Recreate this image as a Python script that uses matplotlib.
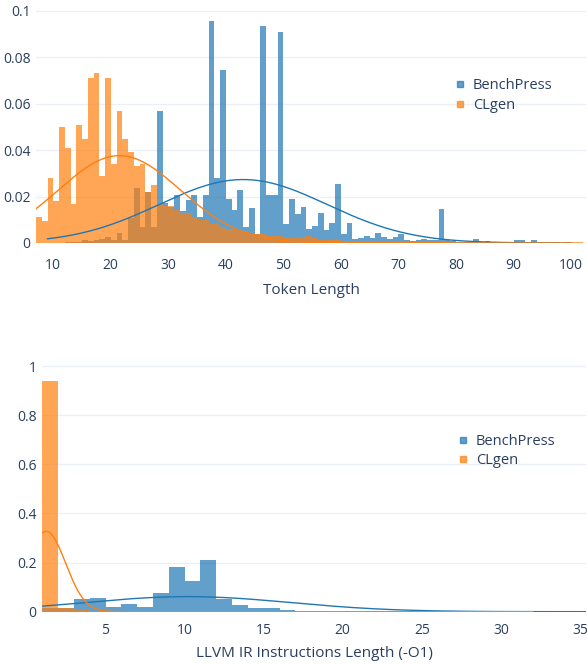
import numpy as np
import matplotlib
matplotlib.use("Agg")
import matplotlib.pyplot as plt
from matplotlib.lines import Line2D

plt.rcParams['font.family'] = ['Open Sans', 'DejaVu Sans']

BLUE = '#1f77b4'
ORANGE = '#ff7f0e'
TEXT = '#2a3f5f'
GRID = '#ebf0f8'

series_names = ['BenchPress', 'CLgen']

# --- token length histogram (bin width 1) ---
tok_bench_start = 9
tok_bench = [
    0.0, 0.0, 0.0, 0.0006, 0.0003, 0.0003, 0.0014, 0.0008, 0.0014, 0.0018,   # 9-18
    0.0026, 0.0012, 0.0042, 0.0013, 0.0106, 0.0236, 0.007, 0.022, 0.007, 0.057,  # 19-28
    0.0172, 0.0155, 0.0208, 0.0138, 0.0184, 0.0208, 0.0112, 0.0208, 0.0957, 0.028,  # 29-38
    0.0747, 0.019, 0.0144, 0.0227, 0.0069, 0.0152, 0.004, 0.0934, 0.0205, 0.0205,  # 39-48
    0.0908, 0.0083, 0.019, 0.0127, 0.0153, 0.006, 0.0074, 0.0129, 0.0058, 0.0084,  # 49-58
    0.0256, 0.004, 0.0086, 0.0019, 0.0023, 0.0032, 0.0023, 0.0045, 0.0026, 0.0017,  # 59-68
    0.0026, 0.004, 0.0014, 0.0009, 0.0011, 0.0019, 0.0011, 0.0011, 0.0145, 0.0014,  # 69-78
    0.0009, 0.0004, 0.0004, 0.0004, 0.0016, 0.0004, 0.0008, 0.0003, 0.0003, 0.0003,  # 79-88
    0.0003, 0.0011, 0.0011, 0.0003, 0.0011, 0.0003, 0.0003, 0.0, 0.0006, 0.0,  # 89-98
    0.0003,  # 99
]
tok_clgen_start = 7
tok_clgen = [
    0.011, 0.0095, 0.028, 0.018, 0.050, 0.041, 0.017, 0.051, 0.045, 0.071,  # 7-16
    0.073, 0.029, 0.071, 0.034, 0.057, 0.045, 0.039, 0.033, 0.034, 0.022,  # 17-26
    0.025, 0.017, 0.016, 0.016, 0.014, 0.013, 0.013, 0.011, 0.010, 0.010,  # 27-36
    0.008, 0.008, 0.007, 0.006, 0.006, 0.005, 0.005, 0.004, 0.004, 0.004,  # 37-46
    0.003, 0.003, 0.003, 0.0025, 0.002, 0.002, 0.0025, 0.003, 0.002, 0.0015,  # 47-56
    0.0015, 0.0012, 0.0012, 0.001, 0.001, 0.0009, 0.0008, 0.0008, 0.0007, 0.0007,  # 57-66
    0.0006, 0.0006, 0.0005, 0.0008, 0.0005, 0.0004, 0.0004, 0.0004, 0.0003, 0.0003,  # 67-76
    0.0003, 0.0003, 0.0002, 0.0002, 0.0002, 0.0002, 0.0002, 0.0002, 0.0002, 0.0002,  # 77-86
    0.0002, 0.0001, 0.0001, 0.0001, 0.0001, 0.0001, 0.0001, 0.0001, 0.0001, 0.0001,  # 87-96
    0.0001, 0.0001, 0.0001, 0.0001, 0.0001,  # 97-101
]
# normal fits (mean, std, x-extent)
tok_bench_fit = (43.0, 14.6, 9, 100)
tok_clgen_fit = (21.5, 10.6, 7, 102)
tok_xticks = [10, 20, 30, 40, 50, 60, 70, 80, 90, 100]
tok_yticks = [0, 0.02, 0.04, 0.06, 0.08, 0.1]
tok_ylabels = ['0', '0.02', '0.04', '0.06', '0.08', '0.1']

# --- LLVM IR instruction length histogram (bin width 1) ---
ir_bench_start = 1
ir_bench = [
    0.016, 0.016, 0.052, 0.056, 0.02, 0.03, 0.02, 0.075, 0.18, 0.126,  # 1-10
    0.21, 0.05, 0.026, 0.016, 0.016, 0.007, 0.004, 0.003, 0.003, 0.002,  # 11-20
    0.001, 0.001, 0.001, 0.001, 0.001, 0.001, 0.001, 0.001, 0.001, 0.001,  # 21-30
    0.001, 0.002, 0.002, 0.002, 0.002,  # 31-35
]
ir_clgen_start = 1
ir_clgen = [
    0.94, 0.016, 0.005, 0.004, 0.003, 0.003, 0.002, 0.002, 0.002, 0.002,  # 1-10
    0.002, 0.002, 0.002, 0.002, 0.002, 0.002, 0.002, 0.002, 0.002, 0.002,  # 11-20
    0.002, 0.002, 0.002, 0.002, 0.002, 0.002, 0.002, 0.002, 0.002, 0.002,  # 21-30
    0.002,  # 31
]
ir_bench_fit = (10.2, 6.5, 1, 35.5)
ir_clgen_fit = (1.25, 1.22, 1, 32)
ir_xticks = [5, 10, 15, 20, 25, 30, 35]
ir_yticks = [0, 0.2, 0.4, 0.6, 0.8, 1]
ir_ylabels = ['0', '0.2', '0.4', '0.6', '0.8', '1']


def normal_curve(fit):
    mu, sd, lo, hi = fit
    x = np.linspace(lo, hi, 400)
    y = np.exp(-0.5 * ((x - mu) / sd) ** 2) / (sd * np.sqrt(2 * np.pi))
    return x, y


def draw_panel(ax, hists, fits, xlim, ylim, xticks, yticks, ylabels, xlabel,
               leg_anchor, xpad, lpad):
    for (start, vals), color in zip(hists, [BLUE, ORANGE]):
        edges = start + np.arange(len(vals))
        ax.bar(edges, vals, width=1.0, align='edge', color=color, alpha=0.7,
               linewidth=0, zorder=2)
    for fit, color in zip(fits, [BLUE, ORANGE]):
        x, y = normal_curve(fit)
        ax.plot(x, y, color=color, lw=1.0, zorder=3)
    ax.set_xlim(*xlim)
    ax.set_ylim(*ylim)
    ax.set_xticks(xticks)
    ax.set_yticks(yticks)
    ax.set_yticklabels(ylabels)
    ax.grid(axis='y', color=GRID, lw=1.0, zorder=0)
    ax.set_axisbelow(True)
    for s in ax.spines.values():
        s.set_visible(False)
    ax.tick_params(length=0, labelsize=10, labelcolor=TEXT)
    ax.tick_params(axis='x', pad=xpad)
    ax.tick_params(axis='y', pad=4)
    ax.set_xlabel(xlabel, fontsize=11, color=TEXT, labelpad=lpad)
    handles = [Line2D([], [], ls='none', marker='s', ms=5, color=c, alpha=0.7)
               for c in [BLUE, ORANGE]]
    ax.legend(handles, series_names, loc='upper left', bbox_to_anchor=leg_anchor,
              frameon=False, fontsize=10.5, labelcolor=TEXT, handlelength=0.8,
              handletextpad=0.5, labelspacing=0.3, borderaxespad=0)


fig = plt.figure(figsize=(5.87, 6.65), dpi=100)
ax1 = fig.add_axes([36 / 587, 422 / 665, 550 / 587, 235 / 665])
ax2 = fig.add_axes([42.3 / 587, 53.3 / 665, 544 / 587, 250 / 665])

draw_panel(ax1, [(tok_bench_start, tok_bench), (tok_clgen_start, tok_clgen)],
           [tok_bench_fit, tok_clgen_fit], (7, 102.6), (0, 0.1012),
           tok_xticks, tok_yticks, tok_ylabels, 'Token Length', (0.749, 0.725),
           11, 7)
draw_panel(ax2, [(ir_bench_start, ir_bench), (ir_clgen_start, ir_clgen)],
           [ir_bench_fit, ir_clgen_fit], (1, 35.4), (0, 1.018),
           ir_xticks, ir_yticks, ir_ylabels, 'LLVM IR Instructions Length (-O1)',
           (0.751, 0.735), 8, 6)

fig.savefig('out.png', dpi=100)
